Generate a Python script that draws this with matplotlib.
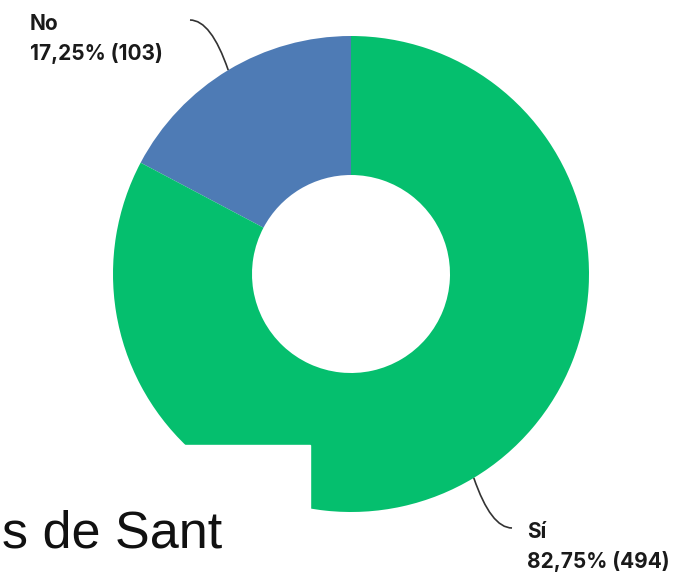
import numpy as np
import matplotlib.pyplot as plt
from matplotlib.path import Path
from matplotlib.patches import PathPatch, Rectangle

# answers of the question, in the order they are drawn (from 12 o'clock, ccw)
labels = ['No', 'Sí']
counts = [103, 494]
shares = ['17,25%', '82,75%']
colors = ['#4e7bb5', '#05bf6e']

W, H = 684, 575
fig = plt.figure(figsize=(W / 100, H / 100), dpi=100)
ax = fig.add_axes([0, 0, 1, 1])
ax.set_xlim(0, W)
ax.set_ylim(0, H)
ax.set_aspect('equal')
ax.axis('off')

cx, cy, r = 351, H - 274, 238
wedges, _ = ax.pie(counts, colors=colors, startangle=90, counterclock=True,
                   radius=r, center=(cx, cy),
                   wedgeprops=dict(width=r - 99, linewidth=0))
ax.set_xlim(0, W)
ax.set_ylim(0, H)

# leader lines from the middle of each arc, then the two-line label
for w, lab, n, pct in zip(wedges, labels, counts, shares):
    ang = np.deg2rad((w.theta1 + w.theta2) / 2)
    x0, y0 = cx + r * np.cos(ang), cy + r * np.sin(ang)
    side = 1 if np.cos(ang) > 0 else -1
    x1 = cx + side * 161
    y1 = cy + np.sign(np.sin(ang)) * 254
    ctrl = (x1 - side * 21, y1)
    path = Path([(x0, y0), ctrl, (x1, y1)], [Path.MOVETO, Path.CURVE3, Path.CURVE3])
    ax.add_patch(PathPatch(path, fill=False, lw=1.2, color='#333333'))
    if side < 0:
        tx, ty = 30, H - 30
    else:
        tx, ty = 527, H - 538
    ax.text(tx, ty, lab, fontsize=15, fontweight='bold', family='Inter',
            color='#1a1a1a', va='baseline')
    ax.text(tx, ty - 30, f'{pct} ({n})', fontsize=15, fontweight='bold',
            family='Inter', color='#1a1a1a', va='baseline')

# piece of the page that sits over the chart
ax.add_patch(Rectangle((0, 0), 310, H - 445, color='white', zorder=5))
ax.text(222, H - 548, 's de Sant', fontsize=37.5, family='Liberation Sans',
        color='#111111', ha='right', va='baseline', zorder=6)

fig.savefig('out.png', dpi=100)
